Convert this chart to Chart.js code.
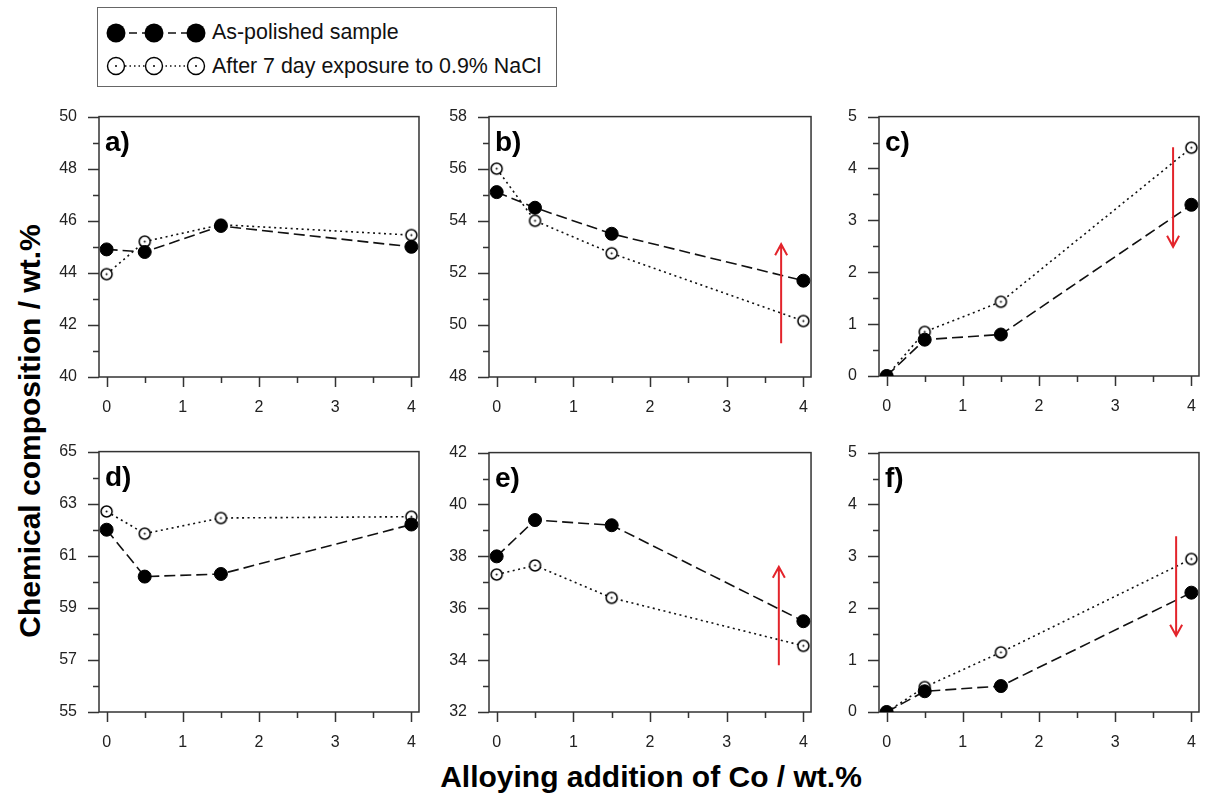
<!DOCTYPE html>
<html>
<head>
<meta charset="utf-8">
<script src="https://cdn.jsdelivr.net/npm/chart.js@4.4.0/dist/chart.umd.min.js"></script>
<style>
  body { margin: 0; background: #fff; width: 1215px; height: 796px; position: relative; overflow: hidden;
         font-family: "Liberation Sans", Arial, sans-serif; color: #111; }
  .panel { position: absolute; }
  #legend { position: absolute; left: 97px; top: 7px; width: 460px; height: 80px; border: 1px solid #666; box-sizing: border-box; }
  #legend canvas { position: absolute; left: 0; top: 0; }
  #legend span { position: absolute; left: 114px; font-size: 21.4px; line-height: 24px; white-space: nowrap; }
  #ytitle { position: absolute; left: 30px; top: 431px; transform: translate(-50%, -50%) rotate(-90deg);
            font-weight: bold; font-size: 30px; line-height: 30px; white-space: nowrap; color: #000; }
  #xtitle { position: absolute; left: 651px; top: 762px; transform: translateX(-50%);
            font-weight: bold; font-size: 30px; line-height: 30px; white-space: nowrap; color: #000; }
</style>
</head>
<body>
<div id="legend">
  <canvas id="legendSymbols" width="110" height="78"></canvas>
  <span style="top:12px">As-polished sample</span>
  <span style="top:46px">After 7 day exposure to 0.9% NaCl</span>
</div>
<div id="ytitle">Chemical composition / wt.%</div>
<div id="xtitle">Alloying addition of Co / wt.%</div>

<script>
// Co additions (x values) and ticks
const coAddition = [0, 0.5, 1.5, 4];
const xMajorTicks = [0, 1, 2, 3, 4];
const xMinorTicks = [0.5, 1.5, 2.5, 3.5];

// As-polished / after 7 day exposure, per panel
const polishedA = [44.9, 44.8, 45.8, 45.0];
const exposedA  = [43.95, 45.2, 45.85, 45.45];
const polishedB = [55.1, 54.5, 53.5, 51.7];
const exposedB  = [56.0, 54.0, 52.75, 50.15];
const polishedC = [0, 0.7, 0.8, 3.3];
const exposedC  = [0, 0.85, 1.43, 4.4];
const polishedD = [62.0, 60.2, 60.3, 62.2];
const exposedD  = [62.7, 61.85, 62.45, 62.5];
const polishedE = [38.0, 39.4, 39.2, 35.5];
const exposedE  = [37.3, 37.65, 36.4, 34.55];
const polishedF = [0, 0.4, 0.5, 2.3];
const exposedF  = [0, 0.48, 1.15, 2.95];

// y tick labels per panel
const yTicksA = [40, 42, 44, 46, 48, 50];
const yTicksB = [48, 50, 52, 54, 56, 58];
const yTicksC = [0, 1, 2, 3, 4, 5];
const yTicksD = [55, 57, 59, 61, 63, 65];
const yTicksE = [32, 34, 36, 38, 40, 42];
const yTicksF = [0, 1, 2, 3, 4, 5];

// red arrows: [x, from y, to y]
const arrowB = [3.71, 49.3, 53.1];
const arrowC = [3.76, 4.41, 2.49];
const arrowE = [3.68, 33.8, 37.6];
const arrowF = [3.80, 3.39, 1.47];

const FONT = '"Liberation Sans", Arial, sans-serif';
const INK = '#111';
const FRAME = '#333';

// open circle with centre dot, used as point style
function openCircle(r) {
    const s = Math.ceil(r * 2 + 4);
    const c = document.createElement('canvas');
    c.width = s; c.height = s;
    const g = c.getContext('2d');
    g.beginPath();
    g.arc(s / 2, s / 2, r, 0, Math.PI * 2);
    g.fillStyle = '#fff';
    g.fill();
    g.lineWidth = 1.5;
    g.strokeStyle = '#000';
    g.stroke();
    g.beginPath();
    g.arc(s / 2, s / 2, 1, 0, Math.PI * 2);
    g.fillStyle = '#000';
    g.fill();
    return c;
}
const openPoint = openCircle(5.5);

const Y_AXIS_W = 46, X_AXIS_H = 48, PAD_TOP = 12, PAD_RIGHT = 4;

const panels = [
    { id: 'a', polished: polishedA, exposed: exposedA, yTicks: yTicksA, arrow: null,   left: 99,  top: 97,  w: 334, h: 280 },
    { id: 'b', polished: polishedB, exposed: exposedB, yTicks: yTicksB, arrow: arrowB, left: 489, top: 97,  w: 336, h: 280 },
    { id: 'c', polished: polishedC, exposed: exposedC, yTicks: yTicksC, arrow: arrowC, left: 879, top: 97,  w: 334, h: 279 },
    { id: 'd', polished: polishedD, exposed: exposedD, yTicks: yTicksD, arrow: null,   left: 99,  top: 432, w: 334, h: 280 },
    { id: 'e', polished: polishedE, exposed: exposedE, yTicks: yTicksE, arrow: arrowE, left: 489, top: 433, w: 336, h: 279 },
    { id: 'f', polished: polishedF, exposed: exposedF, yTicks: yTicksF, arrow: arrowF, left: 879, top: 433, w: 334, h: 279 }
];

// frame, tick marks, panel letter
const framePlugin = {
    id: 'frame',
    beforeDatasetsDraw(chart, args, opts) {
        const { ctx, chartArea: a, scales: { x, y } } = chart;
        ctx.save();
        ctx.strokeStyle = FRAME;
        ctx.lineWidth = 1.5;
        ctx.strokeRect(a.left, a.top, a.right - a.left, a.bottom - a.top);
        ctx.beginPath();
        x.ticks.forEach(t => {
            const px = Math.round(x.getPixelForValue(t.value)) + 0.5;
            ctx.moveTo(px, a.bottom);
            ctx.lineTo(px, a.bottom + (t.major ? 10 : 6));
        });
        y.ticks.forEach(t => {
            const py = Math.round(y.getPixelForValue(t.value)) + 0.5;
            ctx.moveTo(a.left, py);
            ctx.lineTo(a.left - (t.major ? 11 : 6), py);
        });
        ctx.stroke();
        ctx.fillStyle = '#000';
        ctx.font = 'bold 28px ' + FONT;
        ctx.textBaseline = 'alphabetic';
        ctx.fillText(opts.letter + ')', a.left + 6, a.top + 34);
        ctx.restore();
    },
    afterDatasetsDraw(chart, args, opts) {
        if (!opts.arrow) return;
        const { ctx, scales: { x, y } } = chart;
        const [ax, y0, y1] = opts.arrow;
        const px = x.getPixelForValue(ax);
        const p0 = y.getPixelForValue(y0);
        const p1 = y.getPixelForValue(y1);
        const dir = p1 < p0 ? 1 : -1;
        ctx.save();
        ctx.strokeStyle = '#e3242b';
        ctx.lineWidth = 2;
        ctx.beginPath();
        ctx.moveTo(px, p0);
        ctx.lineTo(px, p1);
        ctx.moveTo(px - 6, p1 + dir * 11);
        ctx.lineTo(px, p1);
        ctx.lineTo(px + 6, p1 + dir * 11);
        ctx.stroke();
        ctx.restore();
    }
};

function tickList(majors, minors) {
    return majors.map(v => ({ value: v, major: true }))
        .concat(minors.map(v => ({ value: v, major: false })))
        .sort((p, q) => p.value - q.value);
}

panels.forEach(p => {
    const box = document.createElement('div');
    box.className = 'panel';
    box.style.left = (p.left - Y_AXIS_W) + 'px';
    box.style.top = (p.top - PAD_TOP) + 'px';
    const canvas = document.createElement('canvas');
    canvas.width = p.w + Y_AXIS_W + PAD_RIGHT;
    canvas.height = p.h + PAD_TOP + X_AXIS_H;
    box.appendChild(canvas);
    document.body.appendChild(box);

    const yMinor = p.yTicks.slice(1).map((v, i) => (v + p.yTicks[i]) / 2);

    new Chart(canvas.getContext('2d'), {
        type: 'line',
        data: {
            datasets: [
                {
                    label: 'As-polished sample',
                    data: coAddition.map((x, i) => ({ x: x, y: p.polished[i] })),
                    borderColor: INK,
                    borderWidth: 1.6,
                    borderDash: [11, 5],
                    pointStyle: 'circle',
                    pointRadius: 6.5,
                    pointBackgroundColor: '#000',
                    pointBorderColor: '#000',
                    pointBorderWidth: 1,
                    fill: false,
                    tension: 0
                },
                {
                    label: 'After 7 day exposure to 0.9% NaCl',
                    data: coAddition.map((x, i) => ({ x: x, y: p.exposed[i] })),
                    borderColor: INK,
                    borderWidth: 1.6,
                    borderDash: [2, 3.5],
                    pointStyle: openPoint,
                    pointRadius: 6,
                    fill: false,
                    tension: 0
                }
            ]
        },
        options: {
            responsive: false,
            animation: false,
            layout: { padding: { top: PAD_TOP, right: PAD_RIGHT, left: 0, bottom: 0 } },
            scales: {
                x: {
                    type: 'linear',
                    min: -0.1,
                    max: 4.1,
                    afterBuildTicks: s => { s.ticks = tickList(xMajorTicks, xMinorTicks); },
                    afterFit: s => { s.height = X_AXIS_H; },
                    grid: { display: false, drawTicks: false },
                    border: { display: false },
                    ticks: {
                        autoSkip: false,
                        maxRotation: 0,
                        padding: 21,
                        color: '#222',
                        font: { family: FONT, size: 16 },
                        callback: (v, i, ts) => ts[i].major ? String(v) : ''
                    }
                },
                y: {
                    min: p.yTicks[0],
                    max: p.yTicks[p.yTicks.length - 1],
                    afterBuildTicks: s => { s.ticks = tickList(p.yTicks, yMinor); },
                    afterFit: s => { s.width = Y_AXIS_W; },
                    grid: { display: false, drawTicks: false },
                    border: { display: false },
                    ticks: {
                        autoSkip: false,
                        padding: 22,
                        color: '#222',
                        font: { family: FONT, size: 16 },
                        callback: (v, i, ts) => ts[i].major ? String(v) : ''
                    }
                }
            },
            plugins: {
                legend: { display: false },
                tooltip: { enabled: false },
                frame: { letter: p.id, arrow: p.arrow }
            }
        },
        plugins: [framePlugin]
    });
});

// legend symbols
(function drawLegendSymbols() {
    const g = document.getElementById('legendSymbols').getContext('2d');
    const xs = [18, 56, 98];
    g.strokeStyle = INK;
    g.lineWidth = 1.5;
    // row 1: dashed line + filled circles
    g.setLineDash([8, 5]);
    g.beginPath(); g.moveTo(xs[0], 25); g.lineTo(xs[2], 25); g.stroke();
    g.setLineDash([]);
    xs.forEach(x => { g.beginPath(); g.arc(x, 25, 9.5, 0, Math.PI * 2); g.fillStyle = '#000'; g.fill(); });
    // row 2: dotted line + open circles
    g.setLineDash([1.5, 3]);
    g.beginPath(); g.moveTo(xs[0], 58); g.lineTo(xs[2], 58); g.stroke();
    g.setLineDash([]);
    xs.forEach(x => {
        g.beginPath(); g.arc(x, 58, 8.5, 0, Math.PI * 2);
        g.fillStyle = '#fff'; g.fill();
        g.strokeStyle = '#000'; g.lineWidth = 1.4; g.stroke();
        g.beginPath(); g.arc(x, 58, 1, 0, Math.PI * 2); g.fillStyle = '#000'; g.fill();
    });
})();
</script>
</body>
</html>
